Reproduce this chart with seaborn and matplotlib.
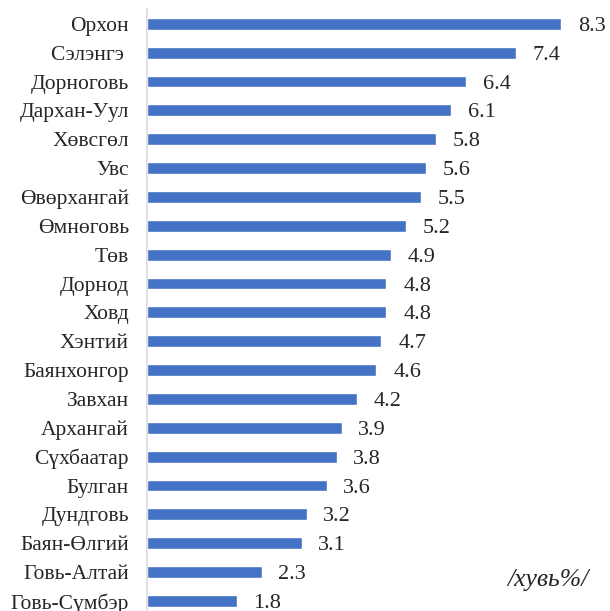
import matplotlib
matplotlib.use("Agg")
import matplotlib.pyplot as plt
import seaborn as sns
import pandas as pd

# aimag names and values (хувь %)
aimags = ["Орхон", "Сэлэнгэ ", "Дорноговь", "Дархан-Уул", "Хөвсгөл", "Увс",
          "Өвөрхангай", "Өмнөговь", "Төв", "Дорнод", "Ховд", "Хэнтий",
          "Баянхонгор", "Завхан", "Архангай", "Сүхбаатар", "Булган",
          "Дундговь", "Баян-Өлгий", "Говь-Алтай", "Говь-Сүмбэр"]
values = [8.3, 7.4, 6.4, 6.1, 5.8, 5.6, 5.5, 5.2, 4.9, 4.8, 4.8, 4.7,
          4.6, 4.2, 3.9, 3.8, 3.6, 3.2, 3.1, 2.3, 1.8]

df = pd.DataFrame({"Aimag": aimags, "Value": values})

sns.set_style("white")
plt.rcParams["font.family"] = ["Liberation Serif", "DejaVu Serif"]

fig = plt.figure(figsize=(6.1, 6.11), dpi=100)
# the bottom category is cut off in the original picture
ax = fig.add_axes([147 / 610, -0.0072, 449 / 610, 0.9918])

sns.barplot(data=df, x="Value", y="Aimag", orient="h", color="#4472C4",
            saturation=1, width=0.41, ax=ax)

ax.set_xlim(0, 9)
ax.set_xlabel("")
ax.set_ylabel("")
ax.set_xticks([])
ax.tick_params(axis="y", length=0, pad=13, labelsize=15.5)

for side in ["top", "right", "bottom"]:
    ax.spines[side].set_visible(False)
ax.spines["left"].set_color("#D9D9D9")
ax.spines["left"].set_linewidth(1.1)

for cont in ax.containers:
    labels = ax.bar_label(cont, fmt="%.1f", padding=12, fontsize=16)
    for t in labels:
        t.set_va("center_baseline")
        t.set_clip_on(False)

fig.text(548 / 610, 1 - 580 / 611, "/хувь%/", fontsize=18.5, style="italic",
         ha="center", va="center")

plt.savefig("out.png", dpi=100)
plt.close()
